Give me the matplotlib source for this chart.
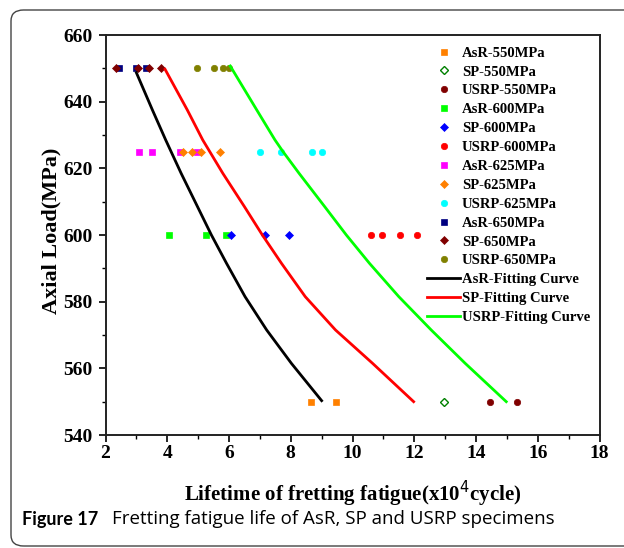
import numpy as np
import matplotlib
matplotlib.use('Agg')
from matplotlib import pyplot as plt
from matplotlib.patches import FancyBboxPatch
from matplotlib.ticker import MultipleLocator

# measured lifetimes (x10^4 cycles) at each axial load
asr_550 = [8.65, 9.45]
sp_550 = [12.97]
usrp_550 = [14.45, 15.33]
asr_600 = [4.05, 5.25, 5.9]
sp_600 = [6.05, 7.15, 7.95]
usrp_600 = [10.6, 10.95, 11.55, 12.1]
asr_625 = [3.1, 3.5, 4.4, 4.95]
sp_625 = [4.5, 4.8, 5.1, 5.7]
usrp_625 = [7.0, 7.7, 8.7, 9.0]
asr_650 = [2.45, 3.0, 3.3]
sp_650 = [2.35, 3.05, 3.4, 3.8]
usrp_650 = [4.95, 5.5, 5.8, 6.0]

# fitting curves, points
asr_fit_y = [648.7, 637.5, 628.5, 618.5, 608.5, 600, 591.5, 581.5, 571.5, 561.5, 550.3]
asr_fit_x = [3.0, 3.52, 3.95, 4.45, 4.98, 5.43, 5.92, 6.52, 7.22, 8.02, 9.0]
sp_fit_y = [649.7, 637.5, 628.5, 618.5, 608.5, 600, 591.5, 581.5, 571.5, 561.5, 550]
sp_fit_x = [3.93, 4.65, 5.15, 5.8, 6.5, 7.08, 7.7, 8.47, 9.45, 10.65, 11.98]
usrp_fit_y = [650.7, 637.5, 628.5, 625, 618.5, 608.5, 600, 591.5, 581.5, 571.5, 561.5, 550]
usrp_fit_x = [6.04, 6.9, 7.49, 7.75, 8.27, 9.1, 9.8, 10.55, 11.5, 12.55, 13.65, 14.98]

serif = 'Liberation Serif'

fig = plt.figure(figsize=(6.24, 5.48), dpi=100)

# rounded frame round the figure
frame = FancyBboxPatch((11 / 624, 2 / 548), 660 / 624, 536 / 548,
                       boxstyle='round,pad=0,rounding_size=0.02',
                       transform=fig.transFigure, fill=False,
                       edgecolor='#444444', linewidth=1.0)
fig.patches.append(frame)

ax = fig.add_axes([105.5 / 624, 1 - 435 / 548, 494 / 624, 400 / 548])

series = [
    ('AsR-550MPa', asr_550, 550, 's', '#FF8000', True),
    ('SP-550MPa', sp_550, 550, 'D', '#008000', False),
    ('USRP-550MPa', usrp_550, 550, 'o', '#800000', True),
    ('AsR-600MPa', asr_600, 600, 's', '#00FF00', True),
    ('SP-600MPa', sp_600, 600, 'D', '#0000FF', True),
    ('USRP-600MPa', usrp_600, 600, 'o', '#FF0000', True),
    ('AsR-625MPa', asr_625, 625, 's', '#FF00FF', True),
    ('SP-625MPa', sp_625, 625, 'D', '#FF8000', True),
    ('USRP-625MPa', usrp_625, 625, 'o', '#00FFFF', True),
    ('AsR-650MPa', asr_650, 650, 's', '#000080', True),
    ('SP-650MPa', sp_650, 650, 'D', '#800000', True),
    ('USRP-650MPa', usrp_650, 650, 'o', '#808000', True),
]

for label, xs, load, mk, col, filled in series:
    ms = 4.6 if mk != 'D' else 4.3
    ax.plot(xs, [load] * len(xs), linestyle='none', marker=mk, markersize=ms,
            markerfacecolor=col if filled else 'white', markeredgecolor=col,
            markeredgewidth=1.0 if not filled else 0.5, label=label)

ax.plot(asr_fit_x, asr_fit_y, color='black', linewidth=2, label='AsR-Fitting Curve')
ax.plot(sp_fit_x, sp_fit_y, color='#FF0000', linewidth=2, label='SP-Fitting Curve')
ax.plot(usrp_fit_x, usrp_fit_y, color='#00FF00', linewidth=2, label='USRP-Fitting Curve')

ax.set_xlim(2, 18)
ax.set_ylim(540, 660)
ax.xaxis.set_major_locator(MultipleLocator(2))
ax.xaxis.set_minor_locator(MultipleLocator(1))
ax.yaxis.set_major_locator(MultipleLocator(20))
ax.yaxis.set_minor_locator(MultipleLocator(10))
ax.tick_params(which='major', direction='out', length=5, width=1.2,
               labelsize=14)
ax.tick_params(which='minor', direction='out', length=3, width=1.0)
ax.tick_params(axis='x', pad=2)
ax.tick_params(axis='y', pad=4.5)
for lbl in ax.get_xticklabels() + ax.get_yticklabels():
    lbl.set_fontfamily(serif)
    lbl.set_fontweight('bold')
for sp in ax.spines.values():
    sp.set_linewidth(1.4)
    sp.set_color('#222222')

ax.set_xlabel('Lifetime of fretting fatigue(x10$^4$cycle)', fontsize=15,
              fontfamily=serif, fontweight='bold', labelpad=12)
ax.set_ylabel('Axial Load(MPa)', fontsize=16, fontfamily=serif,
              fontweight='bold')
ax.yaxis.set_label_coords(-0.0887, 0.511)

leg = ax.legend(loc='upper left', bbox_to_anchor=(0.630, 0.997), frameon=False,
                prop={'family': serif, 'weight': 'bold', 'size': 10.5},
                handlelength=2.3, handletextpad=0.1, labelspacing=0.39,
                borderaxespad=0.3)

fig.text(22 / 624, 1 - 519 / 548, 'Figure 17', fontsize=13, fontweight='bold',
         fontfamily='Lato', va='center', ha='left')
fig.text(112 / 624, 1 - 519 / 548,
         'Fretting fatigue life of AsR, SP and USRP specimens',
         fontsize=13.5, fontfamily='Open Sans', va='center', ha='left')

fig.savefig('out.png', dpi=100)
